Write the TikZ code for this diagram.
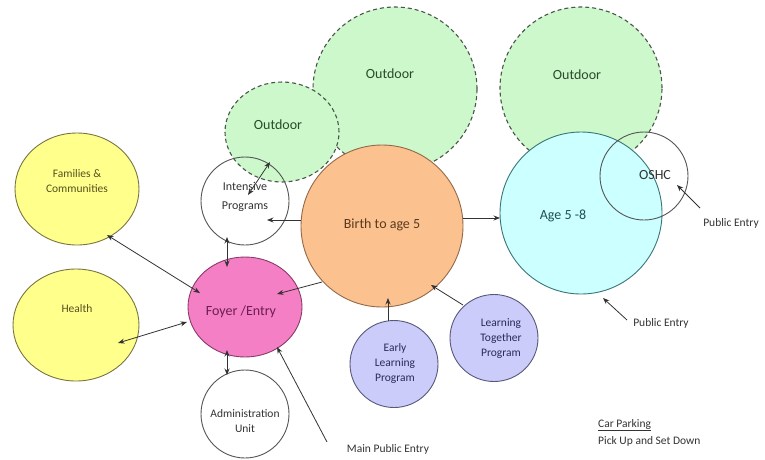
\documentclass[tikz,border=0pt]{standalone}
\usepackage{fontspec}
\setmainfont{Carlito}
\usetikzlibrary{shapes.geometric,arrows.meta}
\definecolor{yelf}{HTML}{FFFF8C}
\definecolor{yell}{HTML}{7A7440}
\definecolor{yelt}{HTML}{55501E}
\definecolor{pinf}{HTML}{F47FC4}
\definecolor{pinl}{HTML}{8A3A6A}
\definecolor{pint}{HTML}{6A1E50}
\definecolor{oraf}{HTML}{FBC18E}
\definecolor{oral}{HTML}{95684A}
\definecolor{orat}{HTML}{5A3A1E}
\definecolor{grnf}{HTML}{CCF8CC}
\definecolor{grnl}{HTML}{4A564A}
\definecolor{grnt}{HTML}{2A4A2A}
\definecolor{cyaf}{HTML}{CCFFFF}
\definecolor{cyal}{HTML}{3A7676}
\definecolor{cyat}{HTML}{1E5050}
\definecolor{lavf}{HTML}{CCCCFA}
\definecolor{lavl}{HTML}{58587A}
\definecolor{lavt}{HTML}{2A2A5A}
\definecolor{plnl}{HTML}{555555}
\definecolor{plnt}{HTML}{333333}
\tikzset{
  bub/.style={ellipse, draw, line width=0.9pt, inner sep=0pt, outer sep=0pt},
  outd/.style={bub, fill=grnf, draw=grnl, dashed, dash pattern=on 4pt off 3pt, line width=1.1pt},
  lbl/.style={font=\fontsize{11.5}{15}\selectfont, align=center, inner sep=0pt},
  big/.style={font=\fontsize{14}{17}\selectfont, align=center, inner sep=0pt},
  conn/.style={line width=0.8pt, draw=plnt, -{Stealth[length=6.5pt,width=5pt]}},
  both/.style={line width=0.8pt, draw=plnt, {Stealth[length=6.5pt,width=5pt]}-{Stealth[length=6.5pt,width=5pt]}},
}
\begin{document}
\begin{tikzpicture}[x=1pt,y=-1pt]
\useasboundingbox[fill=white] (0,0) rectangle (765,459);
% outdoor areas
\node[outd, minimum width=164pt, minimum height=164pt] (outb) at (395,89) {};
\node[outd, minimum width=162pt, minimum height=162pt] (outr) at (581,88) {};
\node[outd, minimum width=114pt, minimum height=100pt] (outs) at (282,132) {};
% main circles
\node[bub, draw=plnl, minimum width=88pt, minimum height=88pt] (intens) at (245,201) {};
\node[bub, fill=oraf, draw=oral, minimum width=162pt, minimum height=162pt] (birth) at (382,226) {};
\node[bub, fill=cyaf, draw=cyal, minimum width=162pt, minimum height=162pt] (age) at (581,213) {};
\node[bub, draw=plnl, minimum width=88pt, minimum height=88pt] (oshc) at (644,176) {};
\node[bub, fill=yelf, draw=yell, minimum width=124pt, minimum height=112pt] (fam) at (77,189) {};
\node[bub, fill=yelf, draw=yell, minimum width=126pt, minimum height=112pt] (health) at (76,325) {};
\node[bub, fill=pinf, draw=pinl, minimum width=114pt, minimum height=100pt] (foyer) at (245,307) {};
\node[bub, fill=lavf, draw=lavl, minimum width=88pt, minimum height=87pt] (early) at (394,364) {};
\node[bub, fill=lavf, draw=lavl, minimum width=88pt, minimum height=87pt] (lt) at (494,338) {};
\node[bub, draw=plnl, minimum width=88pt, minimum height=88pt] (admin) at (245,414) {};
% labels
\node[big, text=grnt] (toutb) at (390,74) {Outdoor};
\node[big, text=grnt] (toutr) at (577,75) {Outdoor};
\node[big, text=grnt] (touts) at (278,125) {Outdoor};
\node[lbl, text=plnt, font=\fontsize{12}{19}\selectfont] (tintens) at (245,197) {Intensive\\Programs};
\node[big, text=orat] (tbirth) at (382,225) {Birth to age 5};
\node[big, text=cyat] (tage) at (563,216) {Age 5 -8};
\node[big, text=plnt] (toshc) at (655,175) {OSHC};
\node[lbl, text=yelt] (tfam) at (77,181) {Families \&\\Communities};
\node[lbl, text=yelt] (thealth) at (77,309) {Health};
\node[big, text=pint] (tfoyer) at (241,312) {Foyer /Entry};
\node[lbl, text=lavt] (tearly) at (395,363) {Early\\Learning\\Program};
\node[lbl, text=lavt] (tlt) at (501,339) {Learning\\Together\\Program};
\node[lbl, text=plnt] (tadmin) at (245,421) {Administration\\Unit};
\node[lbl, text=plnt] (pe1) at (731,223) {Public Entry};
\node[lbl, text=plnt] (pe2) at (661,323) {Public Entry};
\node[lbl, text=plnt] (mpe) at (388,449) {Main Public Entry};
\node[lbl, text=plnt, anchor=west] (car) at (598,425) {\underline{Car Parking}};
\node[lbl, text=plnt, anchor=west] (pick) at (598,441) {Pick Up and Set Down};
% free ends
\coordinate (pe1a) at (700,208);
\coordinate (pe2a) at (627,320);
\coordinate (mpea) at (327,442);
% connectors
\draw[both] ([shift={(30,46)}]fam.center) -- ([shift={(-45,-14)}]foyer.center);
\draw[both] ([shift={(42,18)}]health.center) -- ([shift={(-58,15)}]foyer.center);
\draw[both] ([shift={(-18,36)}]intens.center) -- ([shift={(-18,-40)}]foyer.center);
\draw[conn] ([shift={(-60,56)}]birth.center) -- ([shift={(32,-13)}]foyer.center);
\draw[conn] ([shift={(-81,-6)}]birth.center) -- ([shift={(22,19)}]intens.center);
\draw[both] ([shift={(3,-6)}]intens.center) -- ([shift={(-12,30)}]outs.center);
\draw[conn] ([shift={(81,-8)}]birth.center) -- ([shift={(-81,5)}]age.center);
\draw[conn] ([shift={(-6,-43)}]early.center) -- ([shift={(6,72)}]birth.center);
\draw[conn] ([shift={(-31,-33)}]lt.center) -- ([shift={(49,59)}]birth.center);
\draw[both] ([shift={(-18,43)}]foyer.center) -- ([shift={(-18,-39)}]admin.center);
\draw[conn] (mpea) -- ([shift={(32,40)}]foyer.center);
\draw[conn] (pe1a) -- ([shift={(33,9)}]oshc.center);
\draw[conn] (pe2a) -- ([shift={(22,85)}]age.center);
\end{tikzpicture}
\end{document}
